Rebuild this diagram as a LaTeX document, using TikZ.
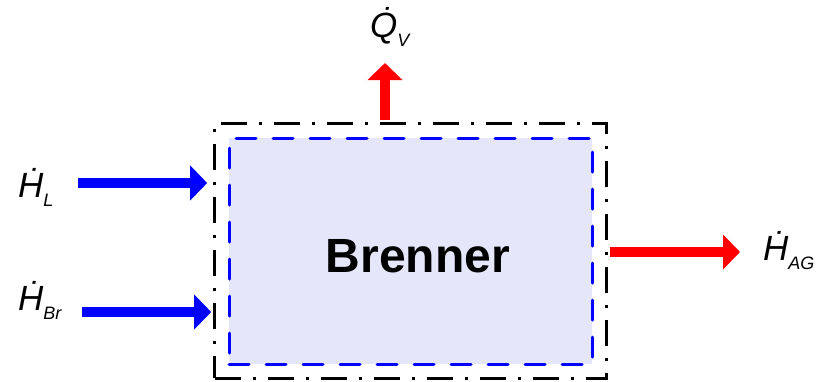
\documentclass[tikz,border=0pt]{standalone}
\usepackage{fontspec}
\setmainfont{Liberation Sans}
\usetikzlibrary{arrows.meta,positioning}

\definecolor{burnerfill}{RGB}{230,230,250}

% Stromgroesse mit Punkt und tief gestelltem Index
\newcommand{\flowsym}[2]{{\itshape\.{#1}}\raisebox{-9pt}{\fontsize{18}{18}\selectfont\itshape #2}}

\tikzset{
  systembox/.style={draw=black, line width=3pt, dash pattern=on 26pt off 12pt on 3pt off 12pt,
    minimum width=392pt, minimum height=255pt, inner sep=0pt},
  burnerbox/.style={draw=blue, fill=burnerfill, line width=3pt, line cap=round,
    dash pattern=on 20pt off 17pt, minimum width=363pt, minimum height=226pt, inner sep=0pt},
  flow/.style={line width=10.7pt, -{Triangle[length=17pt,width=34pt]}},
  flowlabel/.style={font=\fontsize{35}{40}\selectfont, inner sep=0pt, anchor=base west},
  title/.style={font=\fontsize{48}{56}\selectfont\bfseries, inner sep=0pt}
}

\begin{document}
\begin{tikzpicture}[x=1pt,y=-1pt]
  \useasboundingbox (0,0) rectangle (821,381);

  % Bilanzgrenze und Brenner
  \node[systembox] (system) at (410.7,250.8) {};
  \node[burnerbox] (burner) at (410.5,251.2) {};
  \node[title] (name) at (418,255.8) {Brenner};

  % freie Enden der Stroeme
  \coordinate (air in) at (78,183);
  \coordinate (fuel in) at (82,312);
  \coordinate (loss out) at (385,63);
  \coordinate (gas out) at (740,252);

  % Stroeme
  \draw[flow, blue, shorten >=6pt] (air in) -- (air in -| system.west);
  \draw[flow, blue, shorten >=2pt] (fuel in) -- (fuel in -| system.west);
  \draw[flow, red, shorten <=1.5pt] (loss out |- system.north) -- (loss out);
  \draw[flow, red, shorten <=2pt] (gas out -| system.east) -- (gas out);

  % Beschriftung
  \node[flowlabel] (air) at (18,197) {\flowsym{H}{L}};
  \node[flowlabel] (fuel) at (18,310) {\flowsym{H}{Br}};
  \node[flowlabel] (loss) at (370,37) {\flowsym{Q}{V}};
  \node[flowlabel] (gas) at (763,260) {\flowsym{H}{AG}};
\end{tikzpicture}
\end{document}
